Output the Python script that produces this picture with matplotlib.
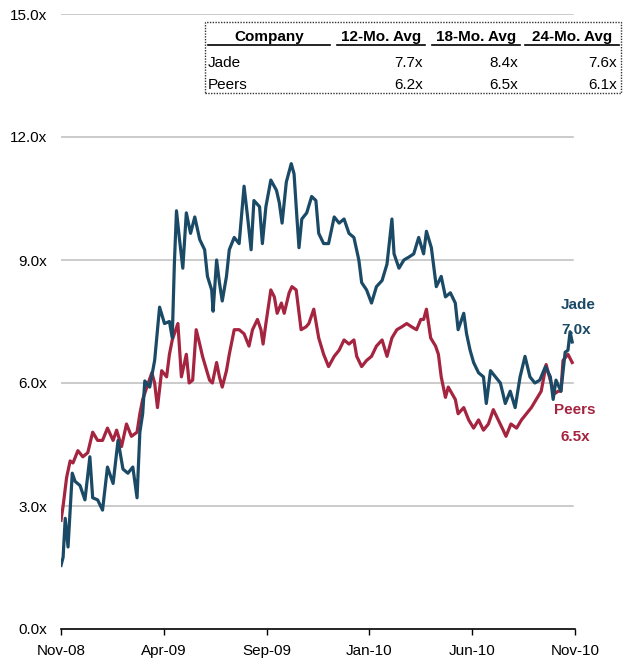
import numpy as np
import matplotlib
matplotlib.use('Agg')
import matplotlib.pyplot as plt
from matplotlib.patches import Rectangle
from matplotlib.lines import Line2D

plt.rcParams['font.family'] = ['Liberation Sans', 'DejaVu Sans']

# Days since start of window (Nov-08) and trading multiples
jade_days = [0, 3, 6, 10, 16, 20, 27, 34, 41, 45, 52, 59, 66, 74, 81, 88, 95, 102, 108, 112,
             116, 119, 126, 133, 140, 147, 154, 158, 161, 164, 168, 173, 178, 184, 190, 197, 204,
             208, 214, 216, 221, 225, 229, 235, 239, 246, 253, 260, 265, 270, 274, 282, 286, 291,
             298, 306, 310, 314, 320, 327, 331, 335, 338, 342, 349, 356, 362, 366, 373, 380, 388,
             395, 402, 409, 416, 423, 427, 434, 441, 448, 456, 463, 470, 473, 480, 487, 494, 501,
             508, 515, 519, 526, 533, 540, 546, 553, 560, 564, 572, 576, 581, 586, 593, 600, 604,
             610, 617, 624, 631, 638, 645, 652, 659, 666, 673, 680, 688, 695, 699, 703, 710, 716,
             720, 723, 726]
jade_vals = [1.55, 1.75, 2.7, 2.0, 3.8, 3.6, 3.5, 3.15, 4.2, 3.2, 3.15, 2.9, 3.95, 3.55, 4.6, 3.9,
             3.8, 3.95, 3.2, 4.8, 5.25, 6.05, 5.9, 6.55, 7.85, 7.45, 7.5, 7.1, 8.9, 10.2, 9.55, 8.8,
             10.15, 9.65, 10.05, 9.5, 9.25, 8.6, 8.27, 7.75, 9.0, 8.45, 8.0, 8.6, 9.25, 9.55, 9.4,
             10.8, 10.05, 9.25, 10.45, 10.3, 9.4, 10.3, 10.95, 10.7, 10.4, 9.9, 10.9, 11.35, 11.1,
             10.05, 9.3, 10.0, 10.15, 10.55, 10.45, 9.65, 9.4, 9.4, 10.05, 9.9, 10.0, 9.65, 9.55,
             9.0, 8.45, 8.27, 7.95, 8.35, 8.5, 8.9, 10.0, 9.15, 8.8, 9.0, 9.07, 9.15, 9.55, 9.15,
             9.7, 9.3, 8.35, 8.6, 8.1, 8.2, 7.95, 7.3, 7.7, 7.2, 6.8, 6.5, 6.25, 6.15, 5.5, 6.3,
             6.15, 6.0, 5.5, 5.8, 5.4, 6.15, 6.65, 6.15, 6.0, 6.07, 6.4, 6.15, 5.6, 6.07, 5.8, 6.75,
             6.8, 7.25, 7.0]

peers_days = [0, 3, 8, 13, 17, 24, 31, 38, 45, 52, 59, 66, 74, 79, 86, 93, 100, 108, 112, 116,
              122, 129, 133, 137, 143, 150, 154, 158, 166, 171, 178, 182, 187, 192, 197, 201, 207,
              211, 215, 221, 225, 229, 235, 239, 246, 253, 260, 267, 272, 279, 284, 287, 291, 298,
              303, 307, 313, 317, 324, 328, 334, 341, 348, 352, 359, 366, 373, 380, 388, 395, 402,
              409, 416, 420, 427, 434, 441, 448, 456, 463, 470, 477, 484, 491, 498, 505, 511, 515,
              519, 525, 532, 536, 540, 546, 550, 555, 560, 564, 572, 579, 586, 593, 600, 607, 614,
              621, 628, 632, 639, 647, 654, 661, 668, 675, 682, 689, 696, 702, 706, 710, 713, 720,
              726]
peers_vals = [2.65, 3.0, 3.7, 4.1, 4.05, 4.35, 4.2, 4.3, 4.8, 4.6, 4.6, 4.9, 4.6, 4.85, 4.45, 5.0,
              4.7, 4.8, 5.25, 5.6, 5.9, 6.25, 6.0, 5.4, 6.3, 6.15, 6.7, 7.05, 7.45, 6.15, 6.7, 6.0,
              6.07, 7.3, 6.95, 6.65, 6.3, 6.07, 6.0, 6.5, 6.15, 5.9, 6.3, 6.7, 7.3, 7.3, 7.2, 6.9,
              7.3, 7.55, 7.3, 6.95, 7.45, 8.27, 8.1, 7.7, 7.95, 7.7, 8.2, 8.35, 8.27, 7.3, 7.37,
              7.45, 7.8, 7.1, 6.7, 6.4, 6.65, 6.8, 7.05, 6.95, 7.05, 6.65, 6.4, 6.55, 6.65, 6.9,
              7.05, 6.65, 7.1, 7.3, 7.37, 7.45, 7.37, 7.3, 7.55, 7.55, 7.8, 7.1, 6.9, 6.7, 6.15,
              5.65, 5.9, 5.75, 5.6, 5.25, 5.4, 5.1, 4.9, 5.1, 4.85, 5.0, 5.35, 5.1, 4.85, 4.7, 5.0,
              4.9, 5.1, 5.25, 5.4, 5.6, 5.8, 6.45, 6.0, 5.75, 5.8, 5.8, 6.55, 6.7, 6.5]

tick_days = [0, 146, 292, 438, 584, 730]
tick_labels = ['Nov-08', 'Apr-09', 'Sep-09', 'Jan-10', 'Jun-10', 'Nov-10']
y_ticks = [0, 3, 6, 9, 12, 15]

# summary table
tbl_cols = ['Company', '12-Mo. Avg', '18-Mo. Avg', '24-Mo. Avg']
tbl_names = ['Jade', 'Peers']
tbl_vals = [[7.7, 8.4, 7.6], [6.2, 6.5, 6.1]]

jade_last = 7.0
peers_last = 6.5

JADE_C = '#1B4A66'
PEER_C = '#A5243F'

W, H = 624, 669
fig = plt.figure(figsize=(W / 100, H / 100), dpi=100)
ax = fig.add_axes([61 / W, 40 / H, 514 / W, 615 / H])

for y in y_ticks[1:]:
    ax.axhline(y, xmax=0.996, color='#BDBDBD', lw=1.1, zorder=1)

ax.plot(jade_days, jade_vals, color=JADE_C, lw=2.3, zorder=3)
ax.plot(peers_days, peers_vals, color=PEER_C, lw=2.3, zorder=2)

ax.set_xlim(0, 730)
ax.set_ylim(0, 15)
ax.set_yticks(y_ticks)
ax.set_yticklabels(['%.1fx' % v for v in y_ticks], fontsize=11)
ax.set_xticks(tick_days)
ax.set_xticklabels(tick_labels, fontsize=11)
ax.tick_params(axis='y', length=0, pad=10)
ax.tick_params(axis='x', length=4, width=1, direction='out', pad=7)
for s in ['top', 'right', 'left']:
    ax.spines[s].set_visible(False)
ax.spines['bottom'].set_linewidth(1.2)
ax.spines['bottom'].set_zorder(4)

# end labels
ax.text(jade_days[-1] + 8, 7.9, 'Jade', color=JADE_C, fontsize=11, fontweight='bold', ha='center', va='center')
ax.text(jade_days[-1] + 5, 7.3, '%.1fx' % jade_last, color=JADE_C, fontsize=11, fontweight='bold', ha='center', va='center')
ax.text(peers_days[-1] + 3, 5.34, 'Peers', color=PEER_C, fontsize=11, fontweight='bold', ha='center', va='center')
ax.text(peers_days[-1] + 5, 4.68, '%.1fx' % peers_last, color=PEER_C, fontsize=11, fontweight='bold', ha='center', va='center')

# table box (figure pixel coords -> fraction)
def fx(px):
    return px / W

def fy(py):
    return 1 - py / H

box = Rectangle((fx(205), fy(93)), fx(621) - fx(205), fy(22) - fy(93), transform=fig.transFigure,
                facecolor='white', edgecolor='#333333', lw=1, ls=(0, (1, 1)), zorder=5)
fig.patches.append(box)

col_spans = [(208, 330), (337, 425), (432, 520), (525, 619)]
for name, (a, b) in zip(tbl_cols, col_spans):
    fig.text(fx((a + b) / 2), fy(37), name, fontsize=11, fontweight='bold', ha='center', va='center', zorder=6)
    fig.lines.append(Line2D([fx(a), fx(b)], [fy(45), fy(45)], transform=fig.transFigure, color='black', lw=1.2, zorder=6))

row_y = [63, 85]
for name, vals, ry in zip(tbl_names, tbl_vals, row_y):
    fig.text(fx(208), fy(ry), name, fontsize=11, ha='left', va='center', zorder=6)
    for v, (a, b) in zip(vals, col_spans[1:]):
        fig.text(fx(b - 2), fy(ry), '%.1fx' % v, fontsize=11, ha='right', va='center', zorder=6)

fig.savefig('out.png', dpi=100)
